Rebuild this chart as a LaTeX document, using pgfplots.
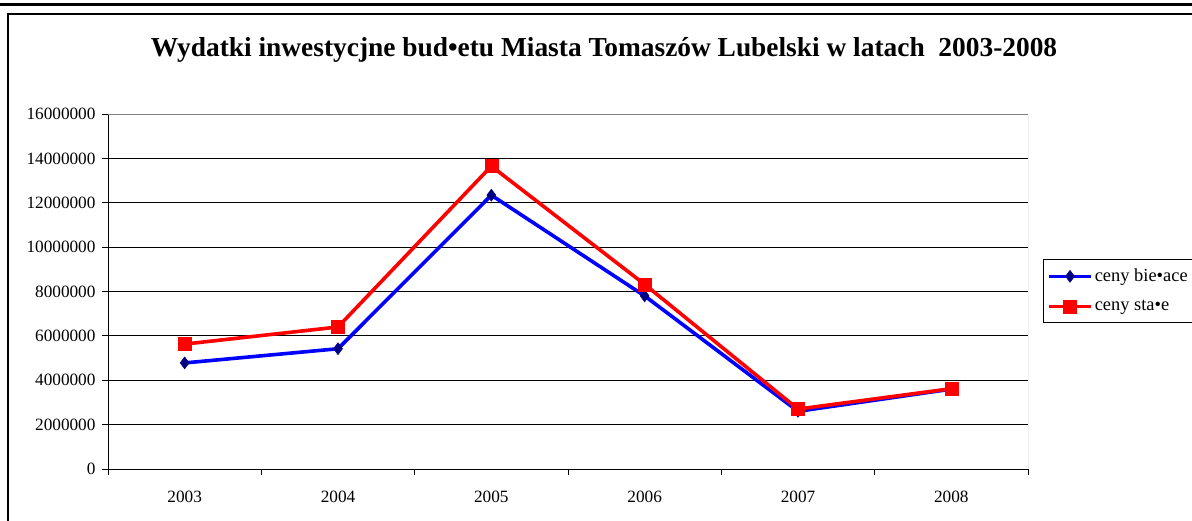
\documentclass[border=0pt]{standalone}
\usepackage{pgfplots}
\pgfplotsset{compat=1.18}
\usepackage{fontspec}
\setmainfont{Liberation Serif}
\definecolor{navyblue}{RGB}{0,0,128}
\begin{document}
\begin{tikzpicture}[x=1bp,y=1bp]
\useasboundingbox (0,0) rectangle (1192,521);
% frame of the original page
\draw[line width=3bp] (0,516) -- (1192,516);
\draw[line width=1.4bp] (8,-5) -- (8,507) -- (1197,507);
\node[font=\bfseries\fontsize{27.5}{32}\selectfont] at (604,471) {Wydatki inwestycjne bud•etu Miasta Tomaszów Lubelski w latach\ \ 2003-2008};
\begin{axis}[
  at={(108bp,52bp)}, anchor=south west,
  scale only axis, width=920bp, height=355bp,
  xmin=-0.5, xmax=5.5, ymin=0, ymax=16000000,
  axis x line*=bottom, axis y line*=left,
  axis line style={black, line width=0.8bp},
  xtick={0,...,5},
  xticklabels={2003,2004,2005,2006,2007,2008},
  major x tick style={draw=none},
  minor xtick={-0.5,0.5,...,5.5},
  minor x tick style={black, line width=0.8bp},
  minor tick length=6bp,
  ytick={0,2000000,...,16000000},
  ytick style={black, line width=0.8bp},
  major tick length=6bp,
  tick align=outside,
  scaled y ticks=false,
  /pgf/number format/.cd, fixed, 1000 sep={}, assume math mode=true,
  /pgfplots/.cd,
  ymajorgrids,
  major grid style={black, line width=0.8bp},
  ticklabel style={font=\fontsize{17.3}{20}\selectfont},
  xticklabel style={yshift=-13bp},
  yticklabel style={xshift=-3bp},
  legend style={at={(1.0163,0.5915)}, anchor=north west, draw=black,
    font=\fontsize{18.5}{22}\selectfont, inner xsep=4bp, inner ysep=8bp, row sep=13bp,
    legend cell align=left},
  legend image code/.code={\draw[mark repeat=2,mark phase=2] plot coordinates {(0bp,0bp)(21bp,0bp)(42bp,0bp)};},
]
\draw[gray, line width=0.8bp] (rel axis cs:0,1) -- (rel axis cs:1,1) -- (rel axis cs:1,0);
\addplot[blue, line width=3.6bp, mark=diamond*, mark size=6bp,
  mark options={draw=navyblue, fill=navyblue, line width=0.5bp}]
  coordinates {(0,4780000) (1,5420000) (2,12340000) (3,7800000) (4,2600000) (5,3600000)};
\addplot[red, line width=3.6bp, mark=square*, mark size=6.5bp,
  mark options={draw=red, fill=red, line width=0.5bp}]
  coordinates {(0,5630000) (1,6400000) (2,13650000) (3,8320000) (4,2700000) (5,3620000)};
\legend{ceny bie•ace, ceny sta•e}
\end{axis}
\end{tikzpicture}
\end{document}
